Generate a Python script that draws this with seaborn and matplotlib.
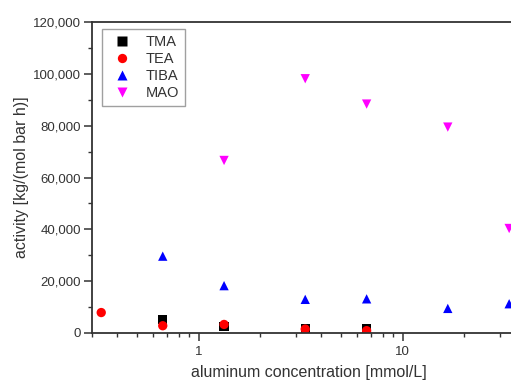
import pandas as pd
import matplotlib
matplotlib.use('Agg')
import matplotlib.pyplot as plt
import matplotlib.ticker as mticker
import seaborn as sns

# aluminum concentration [mmol/L] and activity [kg/(mol bar h)]
tma_conc = [0.667, 1.333, 3.333, 6.667]
tma_act = [5200, 2400, 1500, 1600]

tea_conc = [0.333, 0.667, 1.333, 3.333, 6.667]
tea_act = [7800, 2700, 3200, 1400, 800]

tiba_conc = [0.667, 1.333, 3.333, 6.667, 16.67, 33.33]
tiba_act = [29600, 18200, 12900, 13100, 9400, 11200]

mao_conc = [1.333, 3.333, 6.667, 16.67, 33.33]
mao_act = [66600, 98200, 88400, 79500, 40300]

series = ['TMA', 'TEA', 'TIBA', 'MAO']
colors = ['black', 'red', 'blue', 'magenta']
markers = ['s', 'o', '^', 'v']

frames = []
for name, c, a in zip(series, [tma_conc, tea_conc, tiba_conc, mao_conc],
                      [tma_act, tea_act, tiba_act, mao_act]):
    frames.append(pd.DataFrame({'conc': c, 'activity': a, 'cocatalyst': name}))
df = pd.concat(frames, ignore_index=True)

sns.set_style('ticks')
plt.rcParams['font.family'] = ['Liberation Sans', 'DejaVu Sans']
text_color = '#333333'

fig = plt.figure(figsize=(5.11, 3.82), dpi=100)
# axes run past the right edge of the figure, like the cropped original
ax = fig.add_axes([0.180, 0.129, 0.848, 0.8125])

sns.scatterplot(data=df, x='conc', y='activity', hue='cocatalyst', style='cocatalyst',
                hue_order=series, style_order=series,
                palette=colors, markers=markers, s=45, edgecolor='none', ax=ax)

ax.set_xscale('log')
ax.set_xlim(0.3, 40)
ax.set_ylim(0, 120000)
ax.yaxis.set_major_locator(mticker.MultipleLocator(20000))
ax.yaxis.set_minor_locator(mticker.MultipleLocator(10000))
ax.yaxis.set_major_formatter(mticker.StrMethodFormatter('{x:,.0f}'))
ax.xaxis.set_major_formatter(mticker.FuncFormatter(lambda v, p: f'{v:g}'))

for side in ['left', 'bottom', 'top', 'right']:
    ax.spines[side].set_linewidth(1.3)
    ax.spines[side].set_color(text_color)

ax.tick_params(which='major', direction='out', length=6, width=1.1,
               colors=text_color, labelsize=9.5, labelcolor=text_color)
ax.tick_params(axis='y', which='major', pad=2)
ax.tick_params(which='minor', direction='out', length=3, width=1.0, colors=text_color)

ax.set_xlabel('aluminum concentration [mmol/L]', fontsize=11.5, color=text_color, labelpad=5)
ax.set_ylabel('activity [kg/(mol bar h)]', fontsize=11.5, color=text_color, labelpad=3)

leg = ax.legend(loc='upper left', bbox_to_anchor=(0.023, 0.977), title=None,
                fontsize=10.5, frameon=True, fancybox=False, borderaxespad=0,
                handletextpad=0.6, labelspacing=0.2, markerscale=1.0)
leg.get_frame().set_edgecolor('#888888')
leg.get_frame().set_linewidth(1.0)
for t in leg.get_texts():
    t.set_color(text_color)

plt.savefig('out.png', dpi=100)
plt.close()
